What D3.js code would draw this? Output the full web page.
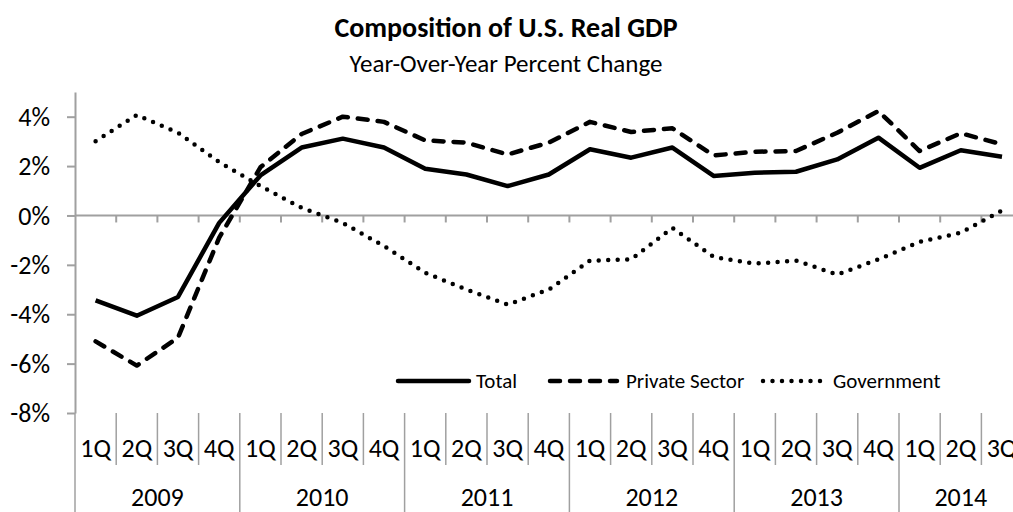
<!DOCTYPE html>
<html>
<head>
<meta charset="utf-8">
<script src="https://cdn.jsdelivr.net/npm/d3@7"></script>
<style>
  body { margin: 0; background: #fff; }
  svg { display: block; overflow: hidden; }
  text { font-family: Carlito, Calibri, Lato, sans-serif; fill: #000; }
</style>
</head>
<body>
<svg width="1013" height="512"></svg>
<script>
// quarters 2009Q1 .. 2014Q3
const years = ["2009", "2010", "2011", "2012", "2013", "2014"];
const quarters = ["1Q", "2Q", "3Q", "4Q"];
const periods = [];
years.forEach(y => quarters.forEach(q => periods.push(y + " " + q)));
periods.splice(23); // data stops at 2014 3Q

const total = [-3.44, -4.06, -3.30, -0.30, 1.62, 2.75, 3.11, 2.75, 1.89, 1.66, 1.19, 1.66,
               2.68, 2.34, 2.75, 1.60, 1.73, 1.77, 2.27, 3.15, 1.93, 2.64, 2.38];
const privateSector = [-5.10, -6.08, -4.95, -0.90, 1.95, 3.30, 4.00, 3.79, 3.04, 2.95, 2.47, 2.95,
                       3.79, 3.38, 3.53, 2.43, 2.58, 2.61, 3.35, 4.23, 2.61, 3.33, 2.88];
const government = [3.01, 4.07, 3.35, 2.16, 1.19, 0.31, -0.30, -1.24, -2.32, -3.00, -3.61, -3.00,
                    -1.83, -1.78, -0.50, -1.68, -1.95, -1.83, -2.39, -1.78, -1.07, -0.70, 0.20];

const yTicks = [-8, -6, -4, -2, 0, 2, 4];

const svg = d3.select("svg");
const grey = "#a0a0a0";

const plotLeft = 75, plotTop = 92, plotBottom = 413;
const band = 41.2;

const x = d3.scaleBand()
    .domain(periods)
    .range([plotLeft, plotLeft + band * periods.length]);

const y = d3.scaleLinear()
    .domain([-8, 5])
    .range([plotBottom, plotTop]);

// title
svg.append("text")
    .attr("x", 506).attr("y", 37)
    .attr("text-anchor", "middle")
    .attr("font-size", 28).attr("font-weight", "bold")
    .text("Composition of U.S. Real GDP");
svg.append("text")
    .attr("x", 506).attr("y", 72)
    .attr("text-anchor", "middle")
    .attr("font-size", 25)
    .text("Year-Over-Year Percent Change");

// y axis
const yAxis = svg.append("g")
    .attr("transform", `translate(${plotLeft},0)`)
    .call(d3.axisLeft(y).tickValues(yTicks).tickFormat(d => d + "%").tickSize(8).tickSizeOuter(0).tickPadding(17));
yAxis.select(".domain").attr("stroke", grey).attr("stroke-width", 2);
yAxis.selectAll(".tick line").attr("stroke", grey).attr("stroke-width", 2);
yAxis.selectAll(".tick text").attr("font-size", 26).attr("font-family", null).attr("dy", "0.33em");

// zero line with category ticks
const zeroY = y(0);
svg.append("line")
    .attr("x1", plotLeft).attr("x2", x.range()[1])
    .attr("y1", zeroY).attr("y2", zeroY)
    .attr("stroke", grey).attr("stroke-width", 2);
svg.append("g").selectAll("line")
    .data(periods.slice(1))
    .join("line")
    .attr("x1", d => x(d)).attr("x2", d => x(d))
    .attr("y1", zeroY).attr("y2", zeroY + 7)
    .attr("stroke", grey).attr("stroke-width", 2);

// category label area: quarter separators and year separators
svg.append("g").selectAll("line")
    .data(periods)
    .join("line")
    .attr("x1", d => x(d)).attr("x2", d => x(d))
    .attr("y1", plotBottom)
    .attr("y2", d => d.endsWith("1Q") ? 512 : 465)
    .attr("stroke", grey).attr("stroke-width", 1.5);

svg.append("g").selectAll("text")
    .data(periods)
    .join("text")
    .attr("x", d => x(d) + x.bandwidth() / 2)
    .attr("y", 457)
    .attr("text-anchor", "middle")
    .attr("font-size", 26)
    .text(d => d.split(" ")[1]);

svg.append("g").selectAll("text")
    .data(years)
    .join("text")
    .attr("x", yr => {
      const ps = periods.filter(p => p.startsWith(yr));
      return (x(ps[0]) + x(ps[ps.length - 1]) + x.bandwidth()) / 2;
    })
    .attr("y", 506)
    .attr("text-anchor", "middle")
    .attr("font-size", 26)
    .text(d => d);

// lines
const line = d3.line()
    .x((d, i) => x(periods[i]) + x.bandwidth() / 2)
    .y(d => y(d));

const styles = [
  { name: "Total", data: total, dash: null, cap: "butt" },
  { name: "Private Sector", data: privateSector, dash: "10,10", cap: "round" },
  { name: "Government", data: government, dash: "0,9.5", cap: "round" }
];

styles.slice().reverse().forEach(s => {
  svg.append("path")
      .attr("d", line(s.data))
      .attr("fill", "none")
      .attr("stroke", "#000")
      .attr("stroke-width", 4.5)
      .attr("stroke-linejoin", "round")
      .attr("stroke-linecap", s.cap)
      .attr("stroke-dasharray", s.dash);
});

// legend
const legendItems = [
  { s: styles[0], x1: 398, x2: 469, tx: 476 },
  { s: styles[1], x1: 550, x2: 617, tx: 626 },
  { s: styles[2], x1: 763, x2: 826, tx: 833 }
];
const lg = svg.append("g");
legendItems.forEach(it => {
  lg.append("line")
      .attr("x1", it.x1).attr("x2", it.x2)
      .attr("y1", 381).attr("y2", 381)
      .attr("stroke", "#000").attr("stroke-width", 4.5)
      .attr("stroke-linecap", "round")
      .attr("stroke-dasharray", it.s.dash);
  lg.append("text")
      .attr("x", it.tx).attr("y", 388)
      .attr("font-size", 21)
      .text(it.s.name);
});
</script>
</body>
</html>
